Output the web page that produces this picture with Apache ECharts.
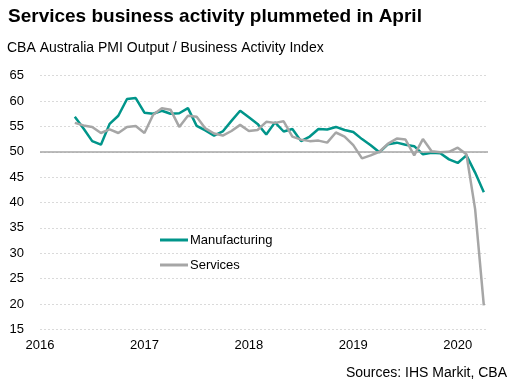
<!DOCTYPE html>
<html>
<head>
<meta charset="utf-8">
<script src="https://cdn.jsdelivr.net/npm/echarts@6/dist/echarts.min.js"></script>
<style>
html,body{margin:0;padding:0;background:#fff;}
#chart{width:516px;height:391px;}
</style>
</head>
<body>
<div id="chart"></div>
<script>
var months = [
  '2016-05','2016-06','2016-07','2016-08','2016-09','2016-10','2016-11','2016-12',
  '2017-01','2017-02','2017-03','2017-04','2017-05','2017-06','2017-07','2017-08','2017-09','2017-10','2017-11','2017-12',
  '2018-01','2018-02','2018-03','2018-04','2018-05','2018-06','2018-07','2018-08','2018-09','2018-10','2018-11','2018-12',
  '2019-01','2019-02','2019-03','2019-04','2019-05','2019-06','2019-07','2019-08','2019-09','2019-10','2019-11','2019-12',
  '2020-01','2020-02','2020-03','2020-04'
];
var manufacturing = [
  56.9,54.6,52.1,51.4,55.5,57.1,60.4,60.6,
  57.7,57.5,58.1,57.5,57.6,58.6,55.1,54.2,53.2,54.0,56.1,58.1,
  56.8,55.5,53.4,55.8,54.0,54.5,52.1,53.0,54.5,54.4,54.9,54.3,
  53.9,52.5,51.3,49.9,51.5,51.8,51.4,51.1,49.5,49.8,49.7,48.5,
  47.8,49.3,45.9,42.0
];
var services = [
  55.7,55.2,54.9,53.7,54.4,53.7,54.9,55.1,
  53.7,57.3,58.6,58.3,54.9,57.1,56.9,54.6,53.6,53.2,54.1,55.3,
  54.1,54.3,55.9,55.7,56.0,53.0,52.4,52.1,52.2,51.8,53.8,53.0,
  51.3,48.7,49.3,50.0,51.6,52.6,52.4,49.3,52.5,50.1,49.9,50.0,
  50.8,49.5,38.7,19.7
];
var yTicks = [15,20,25,30,35,40,45,50,55,60,65];
var xYears = [2016,2017,2018,2019,2020];

function toX(m){ var p = m.split('-'); return +p[0] + (+p[1]-1)/12; }
function pairs(vals){ return months.map(function(m,i){ return [toX(m), vals[i]]; }); }

var font = '"Liberation Sans", Arial, sans-serif';
var chart = echarts.init(document.getElementById('chart'), null, {renderer:'canvas'});
chart.setOption({
  animation:false,
  backgroundColor:'#fff',
  title:[
    {text:'Services business activity plummeted in April', left:8, top:7, padding:0,
     textStyle:{fontFamily:font, fontWeight:'bold', fontSize:19, color:'#000'}},
    {text:'CBA Australia PMI Output / Business Activity Index', left:7, top:41, padding:0,
     textStyle:{fontFamily:font, fontWeight:'normal', fontSize:14, color:'#000'}},
    {text:'Sources: IHS Markit, CBA', right:9, top:366, padding:0,
     textStyle:{fontFamily:font, fontWeight:'normal', fontSize:14, color:'#000'}}
  ],
  legend:{
    orient:'vertical', left:160, top:233, padding:0, itemWidth:28, itemHeight:3, itemGap:11,
    icon:'rect',
    textStyle:{fontFamily:font, fontSize:13, color:'#000', lineHeight:14, padding:[0,0,0,-3]},
    data:['Manufacturing','Services']
  },
  grid:{left:40, right:28, top:75.7, bottom:61.7, containLabel:false},
  xAxis:{
    type:'value', min:xYears[0], max:2020.29, interval:1,
    axisLine:{show:false}, axisTick:{show:false}, splitLine:{show:false},
    axisLabel:{fontFamily:font, fontSize:13, color:'#000', margin:10, showMaxLabel:false,
      formatter:function(v){ return xYears.indexOf(v) >= 0 ? String(v) : ''; }}
  },
  yAxis:{
    type:'value', min:yTicks[0], max:yTicks[yTicks.length-1], interval:5,
    axisLine:{show:false}, axisTick:{show:false},
    axisLabel:{fontFamily:font, fontSize:13, color:'#000', margin:16},
    splitLine:{show:true, lineStyle:{color:'#dadada', width:1, type:[2,2]}}
  },
  series:[
    {name:'Manufacturing', type:'line', data:pairs(manufacturing), symbol:'none', smooth:false,
     lineStyle:{color:'#00958a', width:2.5}, itemStyle:{color:'#00958a'},
     markLine:{silent:true, symbol:'none', label:{show:false},
       lineStyle:{color:'#a6a6a6', width:1.5, type:'solid'}, data:[{yAxis:50}]}},
    {name:'Services', type:'line', data:pairs(services), symbol:'none', smooth:false,
     lineStyle:{color:'#a6a6a6', width:2.5}, itemStyle:{color:'#a6a6a6'}}
  ]
});
</script>
</body>
</html>
